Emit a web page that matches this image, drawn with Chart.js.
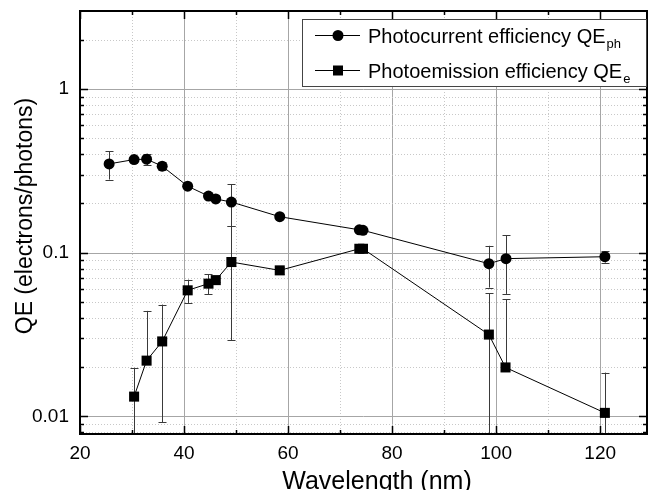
<!DOCTYPE html>
<html>
<head>
<meta charset="utf-8">
<script src="https://cdn.jsdelivr.net/npm/chart.js@4"></script>
<style>
  html, body { margin: 0; padding: 0; background: #fff; }
  canvas { display: block; }
</style>
</head>
<body>
<canvas id="qe" width="649" height="490"></canvas>
<script>
// Photocurrent efficiency (circles)
const wavelengthPh = [25.6, 30.4, 32.8, 35.8, 40.7, 44.7, 46.1, 49.1, 58.4, 73.7, 74.4, 98.6, 101.9, 120.9];
const qePh         = [0.349, 0.371, 0.373, 0.338, 0.255, 0.222, 0.213, 0.204, 0.166, 0.138, 0.137, 0.0857, 0.092, 0.0945];
const qePhErr      = [0.069, 0, 0.03, 0.02, 0, 0, 0, 0.059, 0, 0, 0, 0.0245, 0.036, 0.0075];

// Photoemission efficiency (squares)
const wavelengthE = [30.4, 32.8, 35.8, 40.7, 44.7, 46.1, 49.1, 58.4, 73.7, 74.4, 98.6, 101.8, 120.9];
const qeE         = [0.0132, 0.0219, 0.0287, 0.0589, 0.0647, 0.068, 0.0877, 0.078, 0.1057, 0.1057, 0.0316, 0.0199, 0.0105];
const qeEErr      = [0.0066, 0.0222, 0.0195, 0.0096, 0.009, 0.002, 0.0585, 0.004, 0, 0, 0.025, 0.032, 0.008];

// axes
const xTicks = [20, 30, 40, 50, 60, 70, 80, 90, 100, 110, 120];
const xTickLabels = [20, 40, 60, 80, 100, 120];
const yDecades = [0.001, 0.01, 0.1, 1];
const yTickLabels = [0.01, 0.1, 1];
const xMin = 20, xMax = 129, yMin = 0.0078, yMax = 3;
const xTitle = 'Wavelength (nm)';
const yTitle = 'QE (electrons/photons)';

const FONT = '"Liberation Sans", Arial, sans-serif';

const seriesList = [
  { label: 'Photocurrent efficiency QE', sub: 'ph', x: wavelengthPh, y: qePh, err: qePhErr, style: 'circle' },
  { label: 'Photoemission efficiency QE', sub: 'e', x: wavelengthE, y: qeE, err: qeEErr, style: 'rect' }
];

function drawMarker(ctx, style, x, y) {
  ctx.fillStyle = '#000';
  if (style === 'circle') {
    ctx.beginPath();
    ctx.arc(x, y, 5.5, 0, Math.PI * 2);
    ctx.fill();
  } else {
    ctx.fillRect(x - 5, y - 5, 10, 10);
  }
}

const decor = {
  id: 'decor',
  beforeDatasetsDraw(chart) {
    const { ctx, chartArea: a, scales: { x, y } } = chart;
    ctx.save();
    // grid
    ctx.lineWidth = 1;
    x.ticks.forEach(t => {
      const px = Math.round(x.getPixelForValue(t.value)) + 0.5;
      const major = xTickLabels.includes(t.value);
      ctx.strokeStyle = major ? '#a6a6a6' : '#c8c8c8';
      ctx.setLineDash(major ? [] : [1, 2]);
      ctx.beginPath(); ctx.moveTo(px, a.top); ctx.lineTo(px, a.bottom); ctx.stroke();
    });
    y.ticks.forEach(t => {
      const py = Math.round(y.getPixelForValue(t.value)) + 0.5;
      const major = yTickLabels.includes(t.value);
      ctx.strokeStyle = major ? '#a6a6a6' : '#c8c8c8';
      ctx.setLineDash(major ? [] : [1, 2]);
      ctx.beginPath(); ctx.moveTo(a.left, py); ctx.lineTo(a.right, py); ctx.stroke();
    });
    ctx.setLineDash([]);

    // error bars
    ctx.beginPath();
    ctx.rect(a.left, a.top, a.right - a.left, a.bottom - a.top);
    ctx.clip();
    ctx.strokeStyle = '#3a3a3a';
    seriesList.forEach(s => {
      s.x.forEach((wx, i) => {
        const e = s.err[i];
        if (!e) return;
        const px = Math.round(x.getPixelForValue(wx)) + 0.5;
        const pc = y.getPixelForValue(s.y[i]);
        const hi = s.y[i] + e, lo = s.y[i] - e;
        const pHi = y.getPixelForValue(hi);
        const pLo = lo > 0 ? y.getPixelForValue(lo) : pc;
        ctx.beginPath();
        ctx.moveTo(px, pHi); ctx.lineTo(px, pLo);
        ctx.moveTo(px - 4, Math.round(pHi) + 0.5); ctx.lineTo(px + 4, Math.round(pHi) + 0.5);
        if (lo > 0) { ctx.moveTo(px - 4, Math.round(pLo) + 0.5); ctx.lineTo(px + 4, Math.round(pLo) + 0.5); }
        ctx.stroke();
      });
    });
    ctx.restore();
  },
  afterDatasetsDraw(chart) {
    const { ctx, chartArea: a, scales: { x, y } } = chart;
    ctx.save();
    // frame
    ctx.strokeStyle = '#000';
    ctx.lineWidth = 2;
    ctx.strokeRect(a.left, a.top, a.right - a.left, a.bottom - a.top);
    // inward ticks on all sides
    ctx.lineWidth = 1.5;
    x.ticks.forEach(t => {
      const px = Math.round(x.getPixelForValue(t.value)) + 0.5;
      const len = xTickLabels.includes(t.value) ? 8 : 4;
      ctx.beginPath();
      ctx.moveTo(px, a.bottom); ctx.lineTo(px, a.bottom - len);
      ctx.moveTo(px, a.top); ctx.lineTo(px, a.top + len);
      ctx.stroke();
    });
    y.ticks.forEach(t => {
      if (t.value >= yMax) return;
      const py = Math.round(y.getPixelForValue(t.value)) + 0.5;
      const len = yTickLabels.includes(t.value) ? 8 : 4;
      ctx.beginPath();
      ctx.moveTo(a.left, py); ctx.lineTo(a.left + len, py);
      ctx.moveTo(a.right, py); ctx.lineTo(a.right - len, py);
      ctx.stroke();
    });

    // axis titles (placed like the original, a bit off the plot centre)
    ctx.fillStyle = '#000';
    ctx.textAlign = 'center';
    ctx.textBaseline = 'alphabetic';
    ctx.font = '25px ' + FONT;
    ctx.fillText(xTitle, 377, 489);
    ctx.save();
    ctx.translate(32, 216);
    ctx.rotate(-Math.PI / 2);
    ctx.font = '23px ' + FONT;
    ctx.fillText(yTitle, 0, 0);
    ctx.restore();

    // legend
    const bx = 302, by = 19, bw = a.right - 303, bh = 67;
    ctx.fillStyle = '#fff';
    ctx.fillRect(bx, by, bw, bh);
    ctx.strokeStyle = '#444';
    ctx.lineWidth = 1;
    ctx.strokeRect(bx + 0.5, by + 0.5, bw, bh);
    const rows = [35, 70];
    seriesList.forEach((s, i) => {
      const ry = rows[i] + 0.5;
      ctx.strokeStyle = '#000';
      ctx.beginPath(); ctx.moveTo(315, ry); ctx.lineTo(360, ry); ctx.stroke();
      drawMarker(ctx, s.style, 338, ry);
      ctx.fillStyle = '#000';
      ctx.textBaseline = 'alphabetic';
      ctx.textAlign = 'left';
      ctx.font = '20px ' + FONT;
      const base = rows[i] + 7.5;
      ctx.fillText(s.label, 368, base);
      const w = ctx.measureText(s.label).width;
      ctx.font = '13px ' + FONT;
      ctx.fillText(s.sub, 368 + w + 1, base + 5);
    });
    ctx.restore();
  }
};

const datasets = seriesList.map(s => ({
  label: s.label + s.sub,
  data: s.x.map((wx, i) => ({ x: wx, y: s.y[i] })),
  showLine: true,
  borderColor: '#000',
  borderWidth: 1,
  backgroundColor: '#000',
  pointStyle: s.style,
  pointRadius: s.style === 'circle' ? 5.5 : 7.1,
  pointBorderWidth: 0,
  pointBackgroundColor: '#000',
  tension: 0
}));

new Chart(document.getElementById('qe').getContext('2d'), {
  type: 'line',
  data: { datasets: datasets },
  options: {
    responsive: false,
    animation: false,
    layout: { autoPadding: false, padding: { top: 11, right: 2, left: 0, bottom: 0 } },
    plugins: { legend: { display: false }, tooltip: { enabled: false } },
    scales: {
      x: {
        type: 'linear',
        min: xMin,
        max: xMax,
        afterBuildTicks: s => { s.ticks = xTicks.map(v => ({ value: v })); },
        afterFit: s => { s.height = 56; s.paddingLeft = 0; s.paddingRight = 0; },
        grid: { display: false, drawTicks: false },
        border: { display: false },
        ticks: {
          autoSkip: false,
          maxRotation: 0,
          padding: 10,
          color: '#000',
          font: { family: FONT, size: 19, lineHeight: 1 },
          callback: v => xTickLabels.includes(v) ? String(v) : ''
        }
      },
      y: {
        type: 'logarithmic',
        min: yMin,
        max: yMax,
        afterBuildTicks: s => {
          const t = [];
          yDecades.forEach(d => {
            for (let m = 1; m <= 9; m++) {
              const v = m === 1 ? d : m * d;
              if (v >= yMin && v <= yMax) t.push({ value: v });
            }
          });
          s.ticks = t;
        },
        afterFit: s => { s.width = 80; s.paddingTop = 0; s.paddingBottom = 0; },
        grid: { display: false, drawTicks: false },
        border: { display: false },
        ticks: {
          autoSkip: false,
          padding: 11,
          color: '#000',
          font: { family: FONT, size: 19, lineHeight: 1 },
          callback: v => yTickLabels.includes(v) ? String(v) : ''
        }
      }
    }
  },
  plugins: [decor]
});
</script>
</body>
</html>
